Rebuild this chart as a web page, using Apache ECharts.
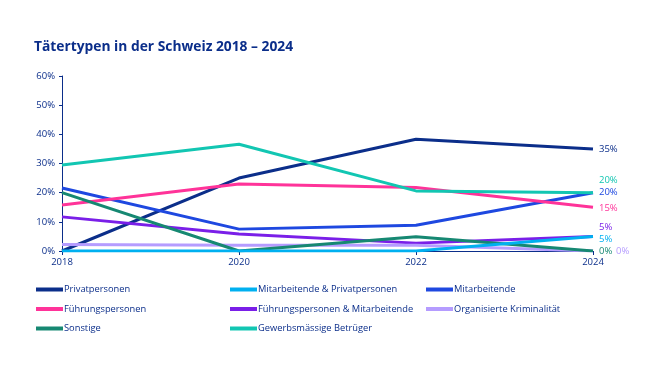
<!DOCTYPE html>
<html><head><meta charset="utf-8">
<script src="https://cdn.jsdelivr.net/npm/echarts@6/dist/echarts.min.js"></script>
<style>html,body{margin:0;padding:0;background:#fff}#c{width:660px;height:380px}</style>
</head><body><div id="c"></div>
<script>
const years = ['2018','2020','2022','2024'];
const yTicks = [0,10,20,30,40,50,60];
const privatpersonen = [0, 25, 38.3, 35];
const mitarbPrivat = [0, 0, 0, 5];
const mitarbeitende = [21.6, 7.5, 8.8, 20];
const fuehrungspersonen = [15.8, 23, 21.8, 15];
const fuehrMitarb = [11.7, 5.8, 2.7, 5];
const orgKrim = [2.2, 2, 2, 0];
const sonstige = [20, 0, 4.9, 0];
const gewerbs = [29.5, 36.6, 20.6, 20];

const names = ['Privatpersonen','Mitarbeitende & Privatpersonen','Mitarbeitende','Führungspersonen','Führungspersonen & Mitarbeitende','Organisierte Kriminalität','Sonstige','Gewerbsmässige Betrüger'];
const datas = [privatpersonen, mitarbPrivat, mitarbeitende, fuehrungspersonen, fuehrMitarb, orgKrim, sonstige, gewerbs];
const colors = ['#0B2E8A','#00B0F0','#1E48E0','#FF3399','#7A1FE8','#B59CFF','#168872','#12C6B2'];
const labelOffsets = [[0,0],[0,3],[0,0],[0,1],[0,-9],[17,0],[0,0],[0,-12]];
const navy = '#0B2E8A';
const font = 'Open Sans';

const series = names.map((n,i)=>({
  name:n, type:'line', data:datas[i], symbol:'none', smooth:false,
  lineStyle:{width:3,color:colors[i]}, itemStyle:{color:colors[i]},
  z: 2+i,
  endLabel:{show:true, formatter:p=>Math.round(p.value)+'%', color:colors[i], fontSize:9.5, fontFamily:font, distance:6, offset:labelOffsets[i]}
}));
series[1].z = 20;

const legendItem = (list, left) => ({
  orient:'vertical', left:left, top:285, padding:0, itemWidth:27, itemHeight:4, itemGap:10.5,
  icon:'rect', data:list, selectedMode:false,
  textStyle:{color:navy, fontSize:9.3, fontFamily:font, padding:[0,0,0,-4]}
});

const chart = echarts.init(document.getElementById('c'));
chart.setOption({
  animation:false,
  title:{text:'Tätertypen in der Schweiz 2018 – 2024', left:29, top:35, textStyle:{color:navy, fontSize:13.8, fontWeight:'bold', fontFamily:font}},
  grid:{left:62, right:67, top:76, bottom:129},
  xAxis:{type:'category', data:years, boundaryGap:false,
    axisLine:{lineStyle:{color:navy,width:1}}, axisTick:{show:true, length:4, lineStyle:{color:navy}},
    axisLabel:{color:navy, fontSize:9.5, fontFamily:font, margin:6, showMaxLabel:true, showMinLabel:true}},
  yAxis:{type:'value', min:0, max:60, interval:10, splitLine:{show:false},
    axisLine:{show:true, lineStyle:{color:navy,width:1}}, axisTick:{show:true, length:3, lineStyle:{color:navy}},
    axisLabel:{color:navy, fontSize:9.5, fontFamily:font, formatter:'{value}%', margin:7}},
  legend:[
    legendItem([names[0],names[3],names[6]], 36),
    legendItem([names[1],names[4],names[7]], 230),
    legendItem([names[2],names[5]], 426)
  ],
  series:series
});
</script></body></html>
